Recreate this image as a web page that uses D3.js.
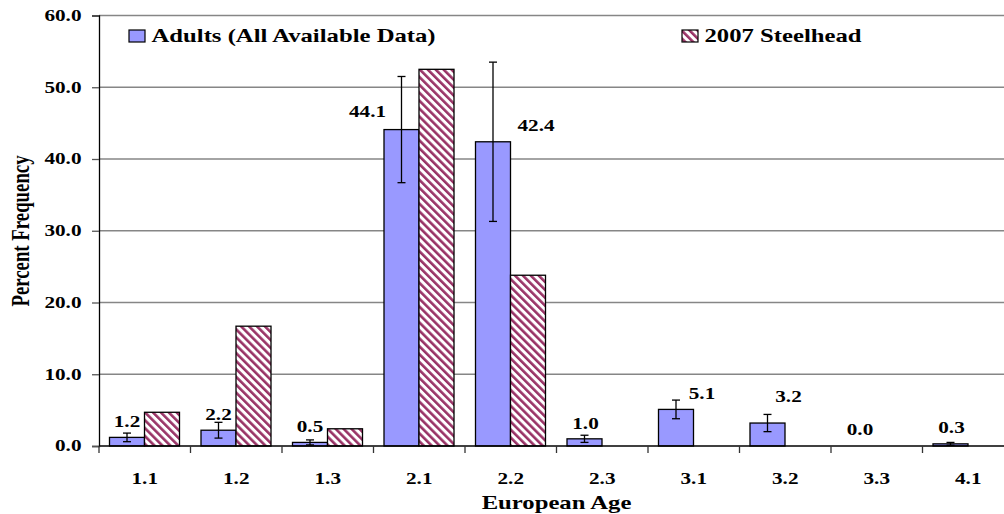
<!DOCTYPE html>
<html><head><meta charset="utf-8">
<script src="https://cdn.jsdelivr.net/npm/d3@7"></script>
<style>body{margin:0;background:#fff;overflow:hidden}svg{display:block}</style>
</head><body><svg id="c" width="1004" height="514"></svg>
<script>
const categories = ["1.1","1.2","1.3","2.1","2.2","2.3","3.1","3.2","3.3","4.1"];
const adults = [1.2,2.2,0.5,44.1,42.4,1.0,5.1,3.2,0.0,0.3];
const adultsErr = [0.6,1.1,0.35,7.4,11.1,0.5,1.3,1.2,0,0.2];
const steelhead = [4.7,16.7,2.4,52.5,23.8,0,0,0,0,0];
const yTicks = [0,10,20,30,40,50,60];
const seriesNames = ["Adults (All Available Data)","2007 Steelhead"];
// manual label nudges (px) relative to default outside-end position
const labelDx = [0,0,0,-34,43,1,26,21,1,1];
const labelDy = [0,0,0,-2,0,1,0,-10,0,0];

const FONT = '"Liberation Serif"';
const SX = 1.35; // horizontal stretch of the reference's text
const svg = d3.select("#c");
const L=99,R=1014,T=15.5,B=446;
const x = d3.scaleBand().domain(categories).range([L,R]);
const y = d3.scaleLinear().domain([0,60]).range([B,T]);
const inner = d3.scaleBand().domain([0,1]).range([10.5, 80.5]);

function txt(sel, size){
  return sel.style("font-family",FONT).style("font-weight","bold").style("font-size",size+"px").attr("fill","#000");
}

const defs = svg.append("defs");
const pat = defs.append("pattern").attr("id","hatch").attr("patternUnits","userSpaceOnUse")
  .attr("width",5.6).attr("height",5.6).attr("patternTransform","rotate(-45)");
pat.append("rect").attr("width",5.6).attr("height",5.6).attr("fill","#fff");
pat.append("rect").attr("x",0).attr("y",0).attr("width",2.6).attr("height",5.6).attr("fill","#993366");

// gridlines
svg.append("g").selectAll("line").data(yTicks.filter(d=>d>0)).join("line")
  .attr("x1",L).attr("x2",R).attr("y1",d=>y(d)).attr("y2",d=>y(d))
  .attr("stroke","#868686").attr("stroke-width",1.6);

// y axis
const ya = svg.append("g").attr("transform",`translate(${L},0)`)
  .call(d3.axisLeft(y).tickValues(yTicks).tickFormat("").tickSize(7));
ya.select(".domain").attr("stroke","#000").attr("stroke-width",1.3);
ya.selectAll(".tick line").attr("stroke","#555").attr("stroke-width",1.3);
txt(svg.append("g").selectAll("text").data(yTicks).join("text"),15.7)
  .attr("text-anchor","end")
  .attr("transform",d=>`translate(81.5,${y(d)+5.4}) scale(${SX},1)`)
  .text(d3.format(".1f"));

// bars
const g = svg.append("g");
g.selectAll("rect.a").data(categories).join("rect").attr("class","a")
  .attr("x",d=>x(d)+inner(0)).attr("width",inner.bandwidth())
  .attr("y",(d,i)=>y(adults[i])).attr("height",(d,i)=>B-y(adults[i]))
  .attr("fill","#9999ff").attr("stroke","#000").attr("stroke-width",1.3);
g.selectAll("rect.s").data(categories.filter((d,i)=>steelhead[i]>0)).join("rect").attr("class","s")
  .attr("x",d=>x(d)+inner(1)).attr("width",inner.bandwidth())
  .attr("y",d=>y(steelhead[categories.indexOf(d)])).attr("height",d=>B-y(steelhead[categories.indexOf(d)]))
  .attr("fill","url(#hatch)").attr("stroke","#000").attr("stroke-width",1.3);

// error bars
const eb = svg.append("g").attr("stroke","#000").attr("stroke-width",1.3);
categories.forEach((c,i)=>{
  if(!adultsErr[i]) return;
  const cx = x(c)+inner(0)+inner.bandwidth()/2;
  const y1=y(adults[i]+adultsErr[i]), y0=y(Math.max(0,adults[i]-adultsErr[i]));
  eb.append("line").attr("x1",cx).attr("x2",cx).attr("y1",y1).attr("y2",y0);
  eb.append("line").attr("x1",cx-4).attr("x2",cx+4).attr("y1",y1).attr("y2",y1);
  eb.append("line").attr("x1",cx-4).attr("x2",cx+4).attr("y1",y0).attr("y2",y0);
});

// x axis
svg.append("line").attr("x1",L).attr("x2",R).attr("y1",B).attr("y2",B).attr("stroke","#000").attr("stroke-width",1.4);
svg.append("g").selectAll("line").data(categories).join("line")
  .attr("x1",d=>x(d)).attr("x2",d=>x(d)).attr("y1",B).attr("y2",B+7).attr("stroke","#333").attr("stroke-width",1.3);
txt(svg.append("g").selectAll("text").data(categories).join("text"),15.7)
  .attr("text-anchor","middle")
  .attr("transform",d=>`translate(${x(d)+x.bandwidth()/2},483.5) scale(${SX},1)`)
  .text(d=>d);

// value labels
txt(svg.append("g").selectAll("text").data(categories).join("text"),15.7)
  .attr("text-anchor","middle")
  .attr("transform",(d,i)=>`translate(${x(d)+inner(0)+inner.bandwidth()/2+labelDx[i]},${y(adults[i])-10.6+labelDy[i]}) scale(${SX},1)`)
  .text((d,i)=>d3.format(".1f")(adults[i]));

// axis titles
txt(svg.append("text"),18.8).attr("text-anchor","middle")
  .attr("transform",`translate(29,231) scale(${SX},1) rotate(-90)`).text("Percent Frequency");
txt(svg.append("text"),18.3).attr("text-anchor","middle")
  .attr("transform",`translate(${(L+R)/2},509) scale(${SX},1)`).text("European Age");

// legend
const leg = svg.append("g");
const lx=[129,682];
seriesNames.forEach((n,i)=>{
  leg.append("rect").attr("x",lx[i]).attr("y",30).attr("width",16).attr("height",12)
    .attr("fill",i===0?"#9999ff":"url(#hatch)").attr("stroke","#000").attr("stroke-width",1.2);
  txt(leg.append("text"),18.3).attr("transform",`translate(${lx[i]+22.5},42.3) scale(${SX},1)`).text(n);
});
</script></body></html>
